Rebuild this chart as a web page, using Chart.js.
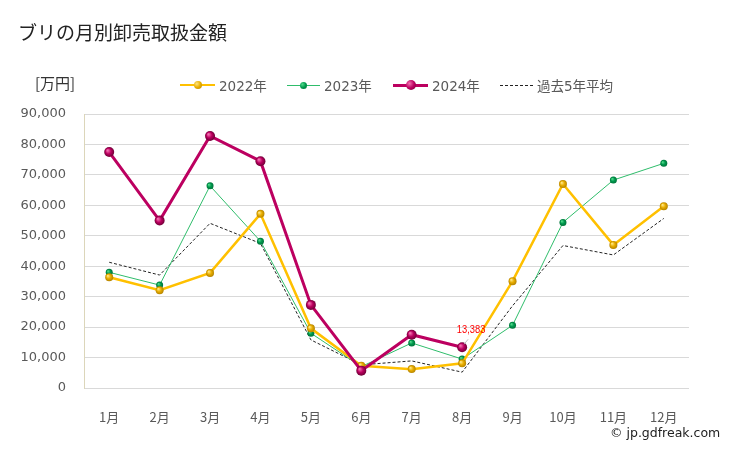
<!DOCTYPE html>
<html>
<head>
<meta charset="utf-8">
<script src="https://cdn.jsdelivr.net/npm/chart.js@4.4.1/dist/chart.umd.min.js"></script>
<style>
  body { margin: 0; background: #fff; font-family: "Noto Sans CJK JP", "DejaVu Sans", sans-serif; }
  #wrap { position: relative; width: 729px; height: 450px; }
  #c { position: absolute; left: 0; top: 0; }
  .txt { position: absolute; white-space: nowrap; }
  #title { left: 18px; top: 18px; font-size: 19px; color: #222; }
  #unit { left: 35px; top: 72px; font-size: 15px; color: #333; }
  #copy { left: 610px; top: 425px; font-size: 12.5px; color: #222; font-family: "DejaVu Sans", sans-serif; }
  .lg { position: absolute; top: 76px; height: 18px; font-size: 13.5px; color: #595959; white-space: nowrap;
        font-family: "DejaVu Sans", "Noto Sans CJK JP", sans-serif; }
  .lg .ln { position: absolute; top: 9px; }
  .lg .dot { position: absolute; border-radius: 50%; }
  .lg span.t { position: absolute; top: -1px; white-space: nowrap; }
</style>
</head>
<body>
<div id="wrap">
  <canvas id="c" width="729" height="450"></canvas>
  <div id="title" class="txt">ブリの月別卸売取扱金額</div>
  <div id="unit" class="txt">[万円]</div>
  <div id="legend"></div>
  <div id="copy" class="txt">© jp.gdfreak.com</div>
</div>
<script>
// データ (万円)
const months = ['1月','2月','3月','4月','5月','6月','7月','8月','9月','10月','11月','12月'];
const sales2022 = [36400, 32100, 37800, 57200, 19600, 7300, 6200, 8100, 35100, 67000, 47000, 59700];
const sales2023 = [38000, 33800, 66400, 48200, 18000, 7000, 14800, 9500, 20600, 54400, 68300, 73800];
const sales2024 = [77500, 55000, 82800, 74500, 27300, 5700, 17500, 13383, null, null, null, null];
const avg5y = [41300, 37100, 54100, 47500, 15800, 7600, 8900, 5200, 27000, 46800, 43700, 55700];
const yTicks = [0, 10000, 20000, 30000, 40000, 50000, 60000, 70000, 80000, 90000];

const C2022 = '#ffc000', C2022d = '#b58400';
const C2023 = '#2fbd6b', C2023d = '#00733a';
const C2024 = '#bc0060', C2024d = '#6e0036';

// 立体っぽい丸マーカー
function sphere(ctx, x, y, r, light, base, dark) {
    const g = ctx.createRadialGradient(x - r * 0.35, y - r * 0.35, r * 0.1, x, y, r);
    g.addColorStop(0, light);
    g.addColorStop(0.5, base);
    g.addColorStop(1, dark);
    ctx.beginPath();
    ctx.arc(x, y, r, 0, Math.PI * 2);
    ctx.fillStyle = g;
    ctx.fill();
}

const spheres = {
    id: 'spheres',
    afterDatasetDraw(chart, args) {
        const ds = chart.data.datasets[args.index];
        if (!ds.sphere) return;
        const ctx = chart.ctx;
        ctx.save();
        args.meta.data.forEach((p, i) => {
            if (ds.data[i] == null) return;
            sphere(ctx, p.x, p.y, ds.sphere.r, ds.sphere.light, ds.sphere.base, ds.sphere.dark);
        });
        ctx.restore();
    }
};

// 8月の値ラベル
const lastLabel = {
    id: 'lastLabel',
    afterDatasetsDraw(chart) {
        const meta = chart.getDatasetMeta(0);
        const p = meta.data[7];
        const ctx = chart.ctx;
        ctx.save();
        ctx.strokeStyle = '#bfbfbf';
        ctx.lineWidth = 1;
        ctx.beginPath();
        ctx.moveTo(p.x + 2, p.y - 3);
        ctx.lineTo(p.x + 6, p.y - 8);
        ctx.stroke();
        ctx.fillStyle = '#ff0000';
        ctx.font = '11px "Liberation Sans", sans-serif';
        ctx.textAlign = 'center';
        ctx.textBaseline = 'middle';
        ctx.translate(p.x + 9, p.y - 17);
        ctx.scale(0.85, 1);
        ctx.fillText(sales2024[7].toLocaleString('en-US'), 0, 0);
        ctx.restore();
    }
};

new Chart(document.getElementById('c'), {
    type: 'line',
    data: {
        labels: months,
        datasets: [
            { label: '2024年', data: sales2024, borderColor: C2024, borderWidth: 3, pointRadius: 0, tension: 0,
              sphere: { r: 5, light: '#f36fb0', base: C2024, dark: C2024d } },
            { label: '2022年', data: sales2022, borderColor: C2022, borderWidth: 2.5, pointRadius: 0, tension: 0,
              sphere: { r: 4, light: '#ffe680', base: '#e8ad00', dark: C2022d } },
            { label: '2023年', data: sales2023, borderColor: C2023, borderWidth: 1, pointRadius: 0, tension: 0,
              sphere: { r: 3.5, light: '#4fd98a', base: '#00994d', dark: C2023d } },
            { label: '過去5年平均', data: avg5y, borderColor: '#222', borderWidth: 1, borderDash: [3, 2], pointRadius: 0, tension: 0 }
        ]
    },
    options: {
        responsive: false,
        animation: false,
        layout: { padding: { top: 114, right: 40, bottom: 0, left: 0 } },
        plugins: { legend: { display: false }, tooltip: { enabled: false } },
        scales: {
            x: {
                offset: true,
                grid: { display: false },
                border: { display: false },
                ticks: { color: '#595959', padding: 13, font: { size: 13, family: '"Noto Sans CJK JP", sans-serif' } },
                afterFit(s) { s.height = 62; }
            },
            y: {
                min: 0, max: 90000,
                afterBuildTicks(s) { s.ticks = yTicks.map(v => ({ value: v })); },
                grid: { color: '#d9d9d9', drawTicks: false },
                border: { display: true, color: '#dcd6ba' },
                ticks: { color: '#595959', padding: 18, font: { size: 13, family: '"DejaVu Sans", sans-serif' },
                         callback: v => v.toLocaleString('en-US') },
                afterFit(s) { s.width = 84; }
            }
        }
    },
    plugins: [spheres, lastLabel]
});

// 凡例
const legendItems = [
    { x: 180, w: 35, text: '2022年', color: C2022, lw: 2.5, dot: 8, dotBg: 'radial-gradient(circle at 35% 35%, #ffe680, #e8ad00 50%, #b58400)' },
    { x: 287, w: 33, text: '2023年', color: C2023, lw: 1, dot: 7, dotBg: 'radial-gradient(circle at 35% 35%, #4fd98a, #00994d 50%, #00733a)' },
    { x: 393, w: 35, text: '2024年', color: C2024, lw: 3, dot: 10, dotBg: 'radial-gradient(circle at 35% 35%, #f36fb0, #bc0060 50%, #6e0036)' },
    { x: 500, w: 33, text: '過去5年平均', color: '#222', lw: 1, dash: true }
];
document.getElementById('legend').innerHTML = legendItems.map(it => {
    const line = it.dash
        ? `<div class="ln" style="left:0;width:${it.w}px;border-top:1px dashed #222"></div>`
        : `<div class="ln" style="left:0;width:${it.w}px;height:${it.lw}px;margin-top:${-it.lw / 2}px;background:${it.color}"></div>`;
    const dot = it.dot
        ? `<div class="dot" style="left:${it.w / 2 - it.dot / 2}px;top:${9 - it.dot / 2}px;width:${it.dot}px;height:${it.dot}px;background:${it.dotBg}"></div>`
        : '';
    return `<div class="lg" style="left:${it.x}px">${line}${dot}<span class="t" style="left:${it.w + 4}px">${it.text}</span></div>`;
}).join('');
</script>
</body>
</html>
